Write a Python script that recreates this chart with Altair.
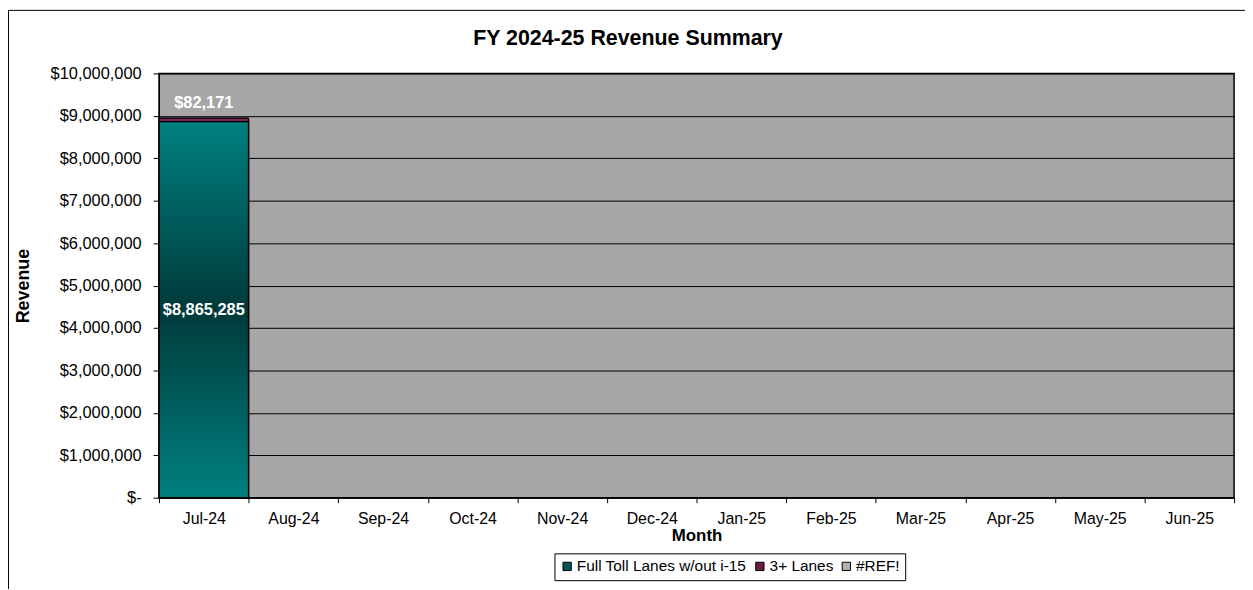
import altair as alt
import pandas as pd

months = ["Jul-24", "Aug-24", "Sep-24", "Oct-24", "Nov-24", "Dec-24",
          "Jan-25", "Feb-25", "Mar-25", "Apr-25", "May-25", "Jun-25"]
series = ["Full Toll Lanes w/out i-15", "3+ Lanes", "#REF!"]
full_toll = [8865285]
three_plus = [82171]
y_ticks = [0, 1000000, 2000000, 3000000, 4000000, 5000000,
           6000000, 7000000, 8000000, 9000000, 10000000]

rows = []
for i, v in enumerate(full_toll):
    rows.append({"month": months[i], "series": series[0], "order": 0, "value": v})
for i, v in enumerate(three_plus):
    rows.append({"month": months[i], "series": series[1], "order": 1, "value": v})
df = pd.DataFrame(rows)

FONT = "Liberation Sans"
W, H = 1082, 427

x_enc = alt.X("month:N", sort=months,
              scale=alt.Scale(domain=months, paddingInner=0, paddingOuter=0),
              axis=alt.Axis(title="Month", tickBand="extent", labelAngle=0,
                            labelFontSize=16, labelColor="#000", labelFont=FONT,
                            titleFontSize=17, titleFont=FONT, titleFontWeight="bold",
                            titleColor="#000", titlePadding=1, labelPadding=8,
                            tickSize=5, tickColor="#000", domainColor="#000",
                            grid=False))
y_scale = alt.Scale(domain=[0, 10000000], nice=False)


def stacked(c):
    return c.transform_stack(stack="value", groupby=["month"], as_=["y0", "y1"],
                             sort=[alt.SortField("order", order="ascending")])


base = stacked(alt.Chart(df)).mark_bar(stroke="#000", strokeWidth=1).encode(
    x=x_enc,
    y=alt.Y("y0:Q", scale=y_scale,
            axis=alt.Axis(title="Revenue", values=y_ticks,
                          labelExpr="datum.value == 0 ? '$-' : '$' + format(datum.value, ',')",
                          labelFontSize=16.5, labelColor="#000", labelFont=FONT,
                          titleFontSize=18, titleFont=FONT, titleFontWeight="bold",
                          titleX=-127, titleColor="#000",
                          tickSize=6, tickColor="#000", labelPadding=12,
                          domainColor="#000", grid=True, gridColor="#000",
                          gridWidth=1)),
    y2="y1:Q",
    color=alt.Color("series:N",
                    scale=alt.Scale(domain=series,
                                    range=["#005555", "#6b1a42", "#b0b0b0"]),
                    legend=alt.Legend(title=None, orient="none", legendX=398,
                                      legendY=483, direction="horizontal",
                                      symbolType="square", symbolSize=70,
                                      symbolStrokeColor="#000", symbolStrokeWidth=1,
                                      labelFontSize=15.5, labelFont=FONT,
                                      labelColor="#000", labelOffset=2,
                                      labelLimit=400,
                                      columnPadding=5, padding=5,
                                      strokeColor="#000", fillColor="#fff")),
)

teal_grad = alt.LinearGradient(
    gradient="linear", x1=0, x2=0, y1=0, y2=1,
    stops=[alt.GradientStop(offset=0, color="#008080"),
           alt.GradientStop(offset=0.5, color="#003a3a"),
           alt.GradientStop(offset=1, color="#008080")])
maroon_grad = alt.LinearGradient(
    gradient="linear", x1=0, x2=0, y1=0, y2=1,
    stops=[alt.GradientStop(offset=0, color="#4a0d2c"),
           alt.GradientStop(offset=0.5, color="#8c3366"),
           alt.GradientStop(offset=1, color="#4a0d2c")])

grad_full = stacked(alt.Chart(df)).transform_filter(
    alt.datum.series == series[0]).mark_bar(
    fill=teal_grad, stroke="#000", strokeWidth=1.5).encode(
    x=alt.X("month:N", sort=months), y=alt.Y("y0:Q", scale=y_scale), y2="y1:Q")
grad_three = stacked(alt.Chart(df)).transform_filter(
    alt.datum.series == series[1]).mark_bar(
    fill=maroon_grad, stroke="#000", strokeWidth=1).encode(
    x=alt.X("month:N", sort=months), y=alt.Y("y0:Q", scale=y_scale), y2="y1:Q")

lbl_full = stacked(alt.Chart(df)).transform_filter(
    alt.datum.series == series[0]).transform_calculate(
    mid="(datum.y0 + datum.y1) / 2",
    txt="'$' + format(datum.value, ',')").mark_text(
    color="#fff", fontWeight="bold", fontSize=16.5, font=FONT).encode(
    x=alt.X("month:N", sort=months), y=alt.Y("mid:Q", scale=y_scale), text="txt:N")
lbl_three = stacked(alt.Chart(df)).transform_filter(
    alt.datum.series == series[1]).transform_calculate(
    txt="'$' + format(datum.value, ',')").mark_text(
    color="#fff", fontWeight="bold", fontSize=16.5, font=FONT, dy=-15).encode(
    x=alt.X("month:N", sort=months), y=alt.Y("y1:Q", scale=y_scale), text="txt:N")

border = alt.Chart(pd.DataFrame({"k": [0]})).mark_rect(
    fill="transparent", stroke="#000", strokeWidth=1, clip=False).encode(
    x=alt.value(-151.5), x2=alt.value(W + 40), y=alt.value(-63.5), y2=alt.value(H + 200))

chart = alt.layer(border, base, grad_full, grad_three, lbl_full, lbl_three).properties(
    width=W, height=H,
    background="#fff",
    title=alt.TitleParams("FY 2024-25 Revenue Summary", fontSize=21.5, font=FONT,
                          fontWeight="bold", color="#000", anchor="middle",
                          frame="group", offset=0, dx=-69, dy=40),
    autosize=alt.AutoSizeParams(type="none"),
    padding={"left": 152, "top": 64, "right": 11, "bottom": 90},
).configure_view(fill="#a6a6a6", stroke="#000", strokeWidth=1.5)

chart.save("out.html", embed_options={"renderer": "svg", "actions": False})
